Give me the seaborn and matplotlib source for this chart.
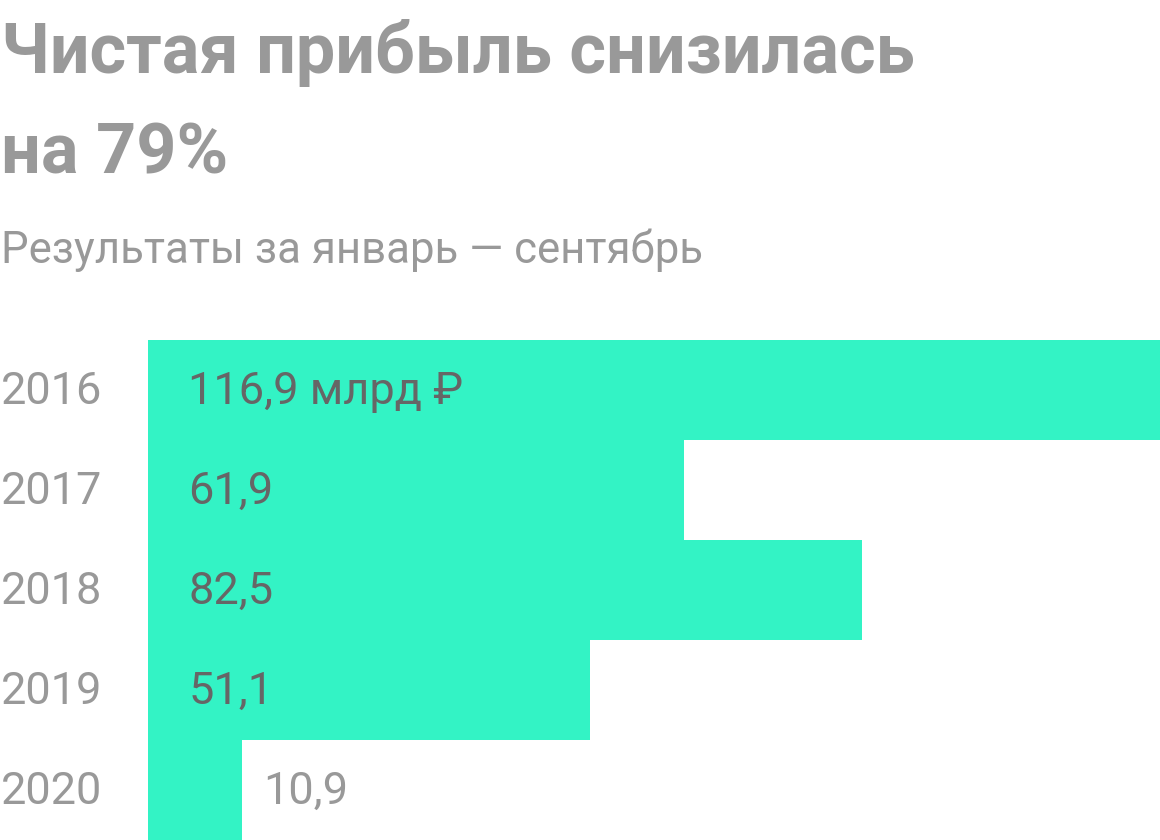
import matplotlib
matplotlib.use("Agg")
import matplotlib.pyplot as plt
import matplotlib.transforms as mtransforms
import pandas as pd
import seaborn as sns

# Data
years = ["2016", "2017", "2018", "2019", "2020"]
profit = [116.9, 61.9, 82.5, 51.1, 10.9]
value_labels = ["116,9 млрд ₽", "61,9", "82,5", "51,1", "10,9"]

title_lines = ["Чистая прибыль снизилась", "на 79%"]
subtitle = "Результаты за январь — сентябрь"

BAR = "#33f3c5"
GREY = "#999999"
DARK = "#666666"


def main():
    sns.set_style("white")
    plt.rcParams["font.family"] = ["Roboto", "DejaVu Sans"]

    df = pd.DataFrame({"year": years, "profit": profit})

    fig = plt.figure(figsize=(11.6, 8.4), dpi=100)
    W, H = 1160, 840
    ax = fig.add_axes([148 / W, 0, 1012 / W, 500 / H])

    sns.barplot(data=df, x="profit", y="year", orient="h", color=BAR,
                saturation=1, width=1.0, linewidth=0, ax=ax)
    ax.set_xlim(0, max(profit))
    ax.set_ylim(len(years) - 0.5, -0.5)
    ax.axis("off")

    # year labels at the left edge of the figure
    trans = mtransforms.blended_transform_factory(fig.transFigure, ax.transData)
    for i, y in enumerate(years):
        ax.annotate(y, xy=(1 / W, i), xycoords=trans, xytext=(0, -10),
                    textcoords="offset points", va="baseline", ha="left",
                    fontsize=32.5, color=GREY, annotation_clip=False)

    # value labels, inside the bar unless it is too short
    for i, (v, lab) in enumerate(zip(profit, value_labels)):
        if v < 20:
            x, dx, col = v, 15, GREY
        else:
            x, dx, col = 0, 29, DARK
        ax.annotate(lab, xy=(x, i), xytext=(dx, -10), textcoords="offset points",
                    va="baseline", ha="left", fontsize=32.5, color=col,
                    annotation_clip=False)

    # title and subtitle
    fig.text(1 / W, 1 - 73 / H, title_lines[0], fontsize=50.5, fontweight="bold",
             color=GREY, va="baseline", ha="left")
    fig.text(1 / W, 1 - 173 / H, title_lines[1], fontsize=50.5, fontweight="bold",
             color=GREY, va="baseline", ha="left")
    fig.text(1 / W, 1 - 263 / H, subtitle, fontsize=31.5, color=GREY,
             va="baseline", ha="left")

    fig.savefig("out.png", dpi=100)


if __name__ == "__main__":
    main()
